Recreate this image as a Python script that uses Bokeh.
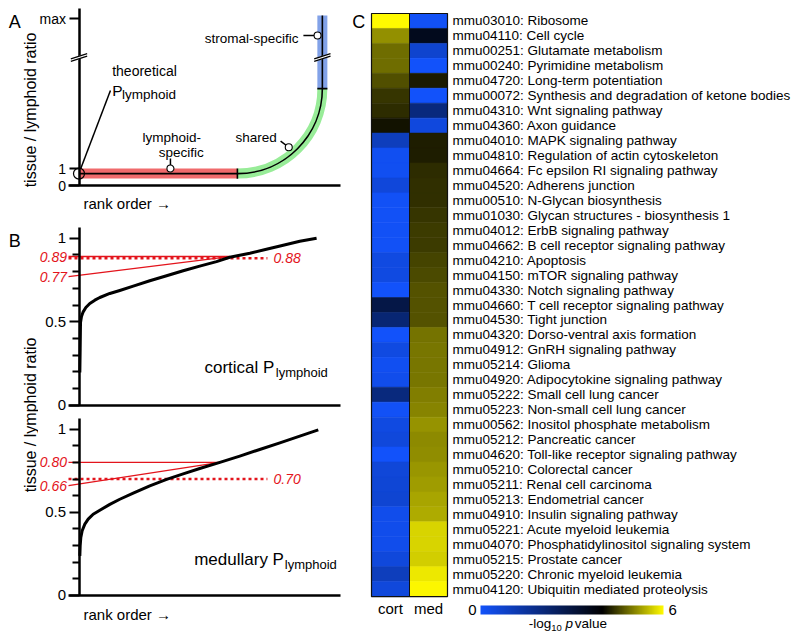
import numpy as np
from bokeh.plotting import figure
from bokeh.models import Range1d, FixedTicker, LinearColorMapper, ColorBar, ColumnDataSource
from bokeh.layouts import row, column
from bokeh.embed import file_html
from bokeh.resources import INLINE
from bokeh.core.properties import value
from bokeh.transform import transform

FONT = "Liberation Sans"

# ---------------- data ----------------
# Panel A (schematic): rank position vs schematic tissue/lymphoid level
A_ticks = [0, 1, 9.82]
A_tick_text = {0: "0", 1: "1", 9.82: "max"}
lymph_level = 0.7      # theoretical P_lymphoid level
lymph_end = 66.0       # end of lymphoid-specific segment (rank)
stromal_x = 101.4      # rank of stromal-specific genes
shared_top = 5.7       # top of shared arc
stromal_top = 10.0     # top of stromal-specific segment
break_level = 7.53     # axis break

# Panel B: sorted tissue / lymphoid ratio vs rank (percent of genes)
cort_rank = [0.35, 0.49, 0.63, 1.04, 1.74, 2.85, 4.51, 6.6, 8.68, 12.85, 17.0, 22.6,
             29.5, 36.5, 43.4, 50.3, 57.3, 62.8, 71.2, 78.1, 85.1, 92.0, 99.0]
cort_ratio = [0.196, 0.336, 0.495, 0.531, 0.559, 0.585, 0.609, 0.629, 0.645, 0.669, 0.687, 0.713,
              0.745, 0.775, 0.805, 0.833, 0.860, 0.886, 0.910, 0.934, 0.958, 0.982, 1.0]
med_rank = [0.35, 0.49, 0.76, 1.32, 2.43, 3.82, 5.9, 8.68, 12.85, 17.0, 22.6, 29.5,
            36.5, 43.4, 50.3, 58.7, 67.0, 75.3, 83.7, 92.0, 99.7]
med_ratio = [0.237, 0.297, 0.348, 0.388, 0.428, 0.458, 0.488, 0.512, 0.547, 0.578, 0.615, 0.659,
             0.698, 0.731, 0.763, 0.800, 0.838, 0.878, 0.918, 0.958, 0.996]
cort_cross, cort_hi, cort_lo, cort_p = 62.8, 0.89, 0.77, 0.88
med_cross, med_hi, med_lo, med_p = 58.7, 0.80, 0.66, 0.70
dotted_end = 78.5
B_major = [0, 0.5, 1]
B_minor = [0.1, 0.2, 0.3, 0.4, 0.6, 0.7, 0.8, 0.9]
B_tick_text = {0: "0", 0.5: "0.5", 1: "1"}

# Panel C: -log10 p values
pathways = [
    "mmu03010: Ribosome", "mmu04110: Cell cycle", "mmu00251: Glutamate metabolism",
    "mmu00240: Pyrimidine metabolism", "mmu04720: Long-term potentiation",
    "mmu00072: Synthesis and degradation of ketone bodies", "mmu04310: Wnt signaling pathway",
    "mmu04360: Axon guidance", "mmu04010: MAPK signaling pathway",
    "mmu04810: Regulation of actin cytoskeleton", "mmu04664: Fc epsilon RI signaling pathway",
    "mmu04520: Adherens junction", "mmu00510: N-Glycan biosynthesis",
    "mmu01030: Glycan structures - biosynthesis 1", "mmu04012: ErbB signaling pathway",
    "mmu04662: B cell receptor signaling pathway", "mmu04210: Apoptosis",
    "mmu04150: mTOR signaling pathway", "mmu04330: Notch signaling pathway",
    "mmu04660: T cell receptor signaling pathway", "mmu04530: Tight junction",
    "mmu04320: Dorso-ventral axis formation", "mmu04912: GnRH signaling pathway",
    "mmu05214: Glioma", "mmu04920: Adipocytokine signaling pathway",
    "mmu05222: Small cell lung cancer", "mmu05223: Non-small cell lung cancer",
    "mmu00562: Inositol phosphate metabolism", "mmu05212: Pancreatic cancer",
    "mmu04620: Toll-like receptor signaling pathway", "mmu05210: Colorectal cancer",
    "mmu05211: Renal cell carcinoma", "mmu05213: Endometrial cancer",
    "mmu04910: Insulin signaling pathway", "mmu05221: Acute myeloid leukemia",
    "mmu04070: Phosphatidylinositol signaling system", "mmu05215: Prostate cancer",
    "mmu05220: Chronic myeloid leukemia", "mmu04120: Ubiquitin mediated proteolysis",
]
cort_p_vals = [6.0, 5.14, 4.86, 4.86, 4.62, 4.42, 4.34, 4.14, 1.0, 0.16, 0.16, 0.52, 0.08,
               0.08, 0.08, 0.08, 0.4, 0.4, 0.0, 2.88, 2.16, 0.0, 0.4, 0.16, 0.25, 2.0,
               0.08, 0.4, 0.5, 0.0, 0.55, 0.6, 0.65, 0.25, 0.25, 0.25, 0.5, 1.0, 0.5]
med_p_vals = [0.08, 3.52, 0.72, 0.0, 4.2, 0.0, 2.0, 0.48, 4.22, 4.22, 4.34, 4.36, 4.38,
              4.42, 4.46, 4.46, 4.54, 4.58, 4.66, 4.66, 4.66, 4.92, 4.94, 4.94, 4.94, 5.0,
              5.04, 5.16, 5.1, 5.12, 5.2, 5.24, 5.32, 5.36, 5.68, 5.68, 5.64, 5.84, 5.96]
columns = ["cort", "med"]
P_LOW, P_HIGH, P_BLACK = 0, 6, 4.0

# ---------------- styling ----------------
RED = "#e3141c"
RED_BAND = "#f06a6c"
GREEN_BAND = "#98ec98"
BLUE_BAND = "#82a2e8"
BLUE_END = (18, 82, 250)
YELLOW_END = (255, 250, 0)

palette = []
for i in range(256):
    v = P_LOW + (P_HIGH - P_LOW) * i / 255
    if v <= P_BLACK:
        t = 1 - v / P_BLACK
        c = [round(b * t) for b in BLUE_END]
    else:
        t = (v - P_BLACK) / (P_HIGH - P_BLACK)
        c = [round(y * t) for y in YELLOW_END]
    palette.append("#%02x%02x%02x" % tuple(c))

PAGE_H = 636


def base_fig(w, h, xr, yr, axes=True):
    kw = dict(width=w, height=h, x_range=xr, y_range=yr, output_backend="svg",
              toolbar_location=None, min_border=0)
    if not axes:
        kw.update(x_axis_location=None, y_axis_location=None)
    p = figure(**kw)
    p.min_border_left = p.min_border_right = p.min_border_top = p.min_border_bottom = 0
    p.outline_line_color = None
    p.grid.visible = False
    p.background_fill_color = "white"
    p.border_fill_color = "white"
    return p


def txt(p, x, y, s, size, align="left", baseline="alphabetic", color="black",
        style="normal", angle=0.0):
    p.text(x=[x], y=[y], text=[s], text_font=value(FONT), text_font_size=value(size),
           text_align=align, text_baseline=baseline, text_color=color,
           text_font_style=style, angle=angle, level="overlay")


def style_axes(p, xbounds, ybounds, ticks, minor, overrides, label_size):
    xa = p.xaxis[0]
    xa.fixed_location = 0
    xa.bounds = xbounds
    xa.ticker = FixedTicker(ticks=[])
    xa.major_tick_line_color = None
    xa.minor_tick_line_color = None
    xa.axis_line_width = 2.5
    xa.axis_line_color = "black"
    ya = p.yaxis[0]
    ya.fixed_location = 0
    ya.bounds = ybounds
    ya.ticker = FixedTicker(ticks=ticks, minor_ticks=minor)
    ya.major_label_overrides = overrides
    ya.axis_line_width = 2.5
    ya.axis_line_color = "black"
    ya.major_tick_line_width = 2
    ya.major_tick_in = 0
    ya.major_tick_out = 10
    ya.minor_tick_line_width = 2
    ya.minor_tick_in = 0
    ya.minor_tick_out = 7
    ya.major_label_standoff = 3
    ya.major_label_text_font = FONT
    ya.major_label_text_font_size = label_size
    ya.major_label_text_color = "black"


PPU_X = 2.4     # px per rank unit (shared by A and B)
AXIS_X = 78.5   # page x of the rank-0 (y axis) line
XAXIS_L, XAXIS_R = 68, 340
A_BOTTOM = 212  # page y where panel A's canvas ends

# ---------------- Panel A ----------------
A_ZERO, A_PPU = 185, 17
pA = base_fig(348, A_BOTTOM, Range1d((0 - AXIS_X) / PPU_X, (348 - AXIS_X) / PPU_X),
              Range1d((A_ZERO - A_BOTTOM) / A_PPU, (A_ZERO - 0) / A_PPU))
style_axes(pA, ((XAXIS_L - AXIS_X) / PPU_X, (XAXIS_R - AXIS_X) / PPU_X),
           (0, (A_ZERO - 8) / A_PPU), A_ticks, [], A_tick_text, "14px")

k = 0.5523
rad_x = stromal_x - lymph_end
rad_y = shared_top - lymph_level
pA.line([0, lymph_end], [lymph_level, lymph_level], line_width=10, line_color=RED_BAND)
pA.bezier(x0=[lymph_end], y0=[lymph_level], x1=[stromal_x], y1=[shared_top],
          cx0=[lymph_end + k * rad_x], cy0=[lymph_level],
          cx1=[stromal_x], cy1=[shared_top - k * rad_y],
          line_width=10, line_color=GREEN_BAND)
pA.line([stromal_x, stromal_x], [shared_top, stromal_top], line_width=10, line_color=BLUE_BAND)
pA.line([0, lymph_end], [lymph_level, lymph_level], line_width=1.6, line_color="black")
pA.bezier(x0=[lymph_end], y0=[lymph_level], x1=[stromal_x], y1=[shared_top],
          cx0=[lymph_end + k * rad_x], cy0=[lymph_level],
          cx1=[stromal_x], cy1=[shared_top - k * rad_y],
          line_width=1.6, line_color="black")
pA.line([stromal_x, stromal_x], [shared_top, stromal_top], line_width=1.6, line_color="black")
pA.segment(x0=[lymph_end, stromal_x - 2.1], y0=[lymph_level - 0.3, shared_top],
           x1=[lymph_end, stromal_x + 2.1], y1=[lymph_level + 0.3, shared_top],
           line_width=1.6, line_color="black")
for bx in [0, stromal_x]:
    pA.segment(x0=[bx - 3.0], y0=[break_level - 0.135], x1=[bx + 3.0], y1=[break_level + 0.135],
               line_width=3.2, line_color="white", level="overlay")
    pA.segment(x0=[bx - 3.4, bx - 3.4], y0=[break_level - 0.23, break_level - 0.08],
               x1=[bx + 3.4, bx + 3.4], y1=[break_level + 0.08, break_level + 0.23],
               line_width=1.2, line_color="black", level="overlay")
pA.scatter([0], [lymph_level], size=11, marker="circle", fill_color=None,
           line_color="black", line_width=1.2, level="overlay")
pA.segment(x0=[0.7, 38.1, 84.0, 93.5], y0=[0.98, 1.59, 2.61, 8.82],
           x1=[13.1, 38.1, 87.4, 99.4], y1=[5.59, 1.0, 2.25, 8.82],
           line_width=1.5, line_color="black")
pA.scatter([38.1, 87.4, 99.4], [1.0, 2.25, 8.82], size=7, marker="circle",
           fill_color="white", line_color="black", line_width=1.1, level="overlay")

txt(pA, (8.3 - AXIS_X) / PPU_X, (A_ZERO - 21.7) / A_PPU, "A", "18px")
txt(pA, (30 - AXIS_X) / PPU_X, (A_ZERO - 109.5) / A_PPU, "tissue / lymphoid ratio", "16px",
    align="center", baseline="middle", angle=np.pi / 2)
txt(pA, 13.83, 6.76, "theoretical", "14px")
txt(pA, 13.83, 5.59, "P", "15.5px")
txt(pA, 17.9, 5.33, "lymphoid", "13.5px")
txt(pA, 26.46, 2.81, "lymphoid-", "13.5px")
txt(pA, 33.25, 1.96, "specific", "13.5px")
txt(pA, 65.2, 2.84, "shared", "13.5px")
txt(pA, 91.46, 8.63, "stromal-specific", "13.5px", align="right")
txt(pA, 1.875, (A_ZERO - 202.7) / A_PPU, "rank order \u2192", "15px")


# ---------------- Panel B ----------------
def panel_b(h, zero_px, top_px, ppu, page_top, ranks, ratios, cross, hi, lo, pv,
            name, name_x, sub_x, base_y, sub_y):
    page_bottom = page_top + h
    p = base_fig(310, h, Range1d((38 - AXIS_X) / PPU_X, (348 - AXIS_X) / PPU_X),
                 Range1d((zero_px - page_bottom) / ppu, (zero_px - page_top) / ppu))
    style_axes(p, ((XAXIS_L - AXIS_X) / PPU_X, (XAXIS_R - AXIS_X) / PPU_X),
               (0, (zero_px - top_px) / ppu), B_major, B_minor, B_tick_text, "15px")
    x_left = (XAXIS_L - AXIS_X) / PPU_X
    p.segment(x0=[x_left, x_left], y0=[hi, lo], x1=[cross, cross], y1=[hi, hi],
              line_width=1.4, line_color=RED)
    p.line([x_left, dotted_end], [pv, pv], line_width=2.5, line_color=RED, line_dash="3 3")
    p.line(ranks, ratios, line_width=3, line_color="black", line_join="round")
    lab_x = (66.5 - AXIS_X) / PPU_X
    txt(p, lab_x, hi, "%.2f" % hi, "14px", align="right", baseline="middle", color=RED, style="italic")
    txt(p, lab_x, lo, "%.2f" % lo, "14px", align="right", baseline="middle", color=RED, style="italic")
    txt(p, (273 - AXIS_X) / PPU_X, pv, "%.2f" % pv, "14px", baseline="middle", color=RED, style="italic")
    txt(p, name_x, base_y, name + " P", "17px")
    txt(p, sub_x, sub_y, "lymphoid", "13px")
    return p


B_SPLIT = 412
pB1 = panel_b(B_SPLIT - A_BOTTOM, 404.7, 227, 167, A_BOTTOM, cort_rank, cort_ratio,
              cort_cross, cort_hi, cort_lo, cort_p, "cortical", 52.29, 82.0, 0.226, 0.196)
pB2 = panel_b(PAGE_H - B_SPLIT, 594.7, 418, 166, B_SPLIT, med_rank, med_ratio,
              med_cross, med_hi, med_lo, med_p, "medullary", 48.0, 85.75, 0.217, 0.187)
txt(pB2, (83 - AXIS_X) / PPU_X, (594.7 - 614) / 166, "rank order \u2192", "15px")

# shared y-axis title of panel B (page pixel coordinates)
labB = base_fig(38, PAGE_H - A_BOTTOM, Range1d(0, 38), Range1d(PAGE_H, A_BOTTOM), axes=False)
txt(labB, 8.3, 240, "B", "18px")
txt(labB, 30, 414.5, "tissue / lymphoid ratio", "16px", align="center",
    baseline="middle", angle=np.pi / 2)

# ---------------- Panel C ----------------
ROW_PX = 14.95
COL_PX = 38
HM_LEFT, HM_TOP = 371, 13
pC = base_fig(444, PAGE_H, Range1d((348 - HM_LEFT) / COL_PX, (792 - HM_LEFT) / COL_PX),
              Range1d((PAGE_H - HM_TOP) / ROW_PX, (0 - HM_TOP) / ROW_PX), axes=False)
mapper = LinearColorMapper(palette=palette, low=P_LOW, high=P_HIGH)
n = len(pathways)
xs, ys, vs = [], [], []
for ci, vals in enumerate([cort_p_vals, med_p_vals]):
    for ri, v in enumerate(vals):
        xs.append(ci + 0.5)
        ys.append(ri + 0.5)
        vs.append(v)
src = ColumnDataSource(dict(x=xs, y=ys, v=vs))
pC.rect(x="x", y="y", width=1, height=1, source=src, fill_color=transform("v", mapper),
        line_color=transform("v", mapper), line_width=0.6)
pC.rect(x=[len(columns) / 2], y=[n / 2], width=len(columns), height=n, fill_color=None,
        line_color="#111111", line_width=1.2)
pC.segment(x0=[1], y0=[0], x1=[1], y1=[n], line_color="#111111", line_width=1.0)
pC.text(x=[(452 - HM_LEFT) / COL_PX] * n, y=[i + 0.5 for i in range(n)], text=pathways,
        text_font=value(FONT), text_font_size=value("13.5px"), text_baseline="middle",
        text_align="left", text_color="black")
for ci, name in enumerate(columns):
    txt(pC, ci + 0.5, 39.8, name, "15px", align="center", baseline="middle")
txt(pC, (351.7 - HM_LEFT) / COL_PX, (21.7 - HM_TOP) / ROW_PX, "C", "18px")
txt(pC, (476 - HM_LEFT) / COL_PX, 39.9, str(P_LOW), "15px", align="right", baseline="middle")
txt(pC, (668 - HM_LEFT) / COL_PX, 39.9, str(P_HIGH), "15px", align="left", baseline="middle")
txt(pC, 4.14, 40.80, "-log", "13.5px")
txt(pC, 4.729, 41.10, "10", "9.5px")
txt(pC, 5.105, 40.80, "p", "13.5px", style="italic")
txt(pC, 5.35, 40.80, "value", "13.5px")

cb = ColorBar(color_mapper=mapper, orientation="horizontal",
              location=(480 - 348, PAGE_H - 614),
              width=183, height=9, padding=0, margin=0, title=None,
              ticker=FixedTicker(ticks=[]), major_tick_line_color=None,
              minor_tick_line_color=None, major_tick_out=0, major_tick_in=0,
              label_standoff=0, bar_line_color=None, border_line_color=None,
              background_fill_color=None)
pC.add_layout(cb, "center")

layout = row(column(pA, row(labB, column(pB1, pB2))), pC)
open("out.html", "w").write(file_html(layout, INLINE))
